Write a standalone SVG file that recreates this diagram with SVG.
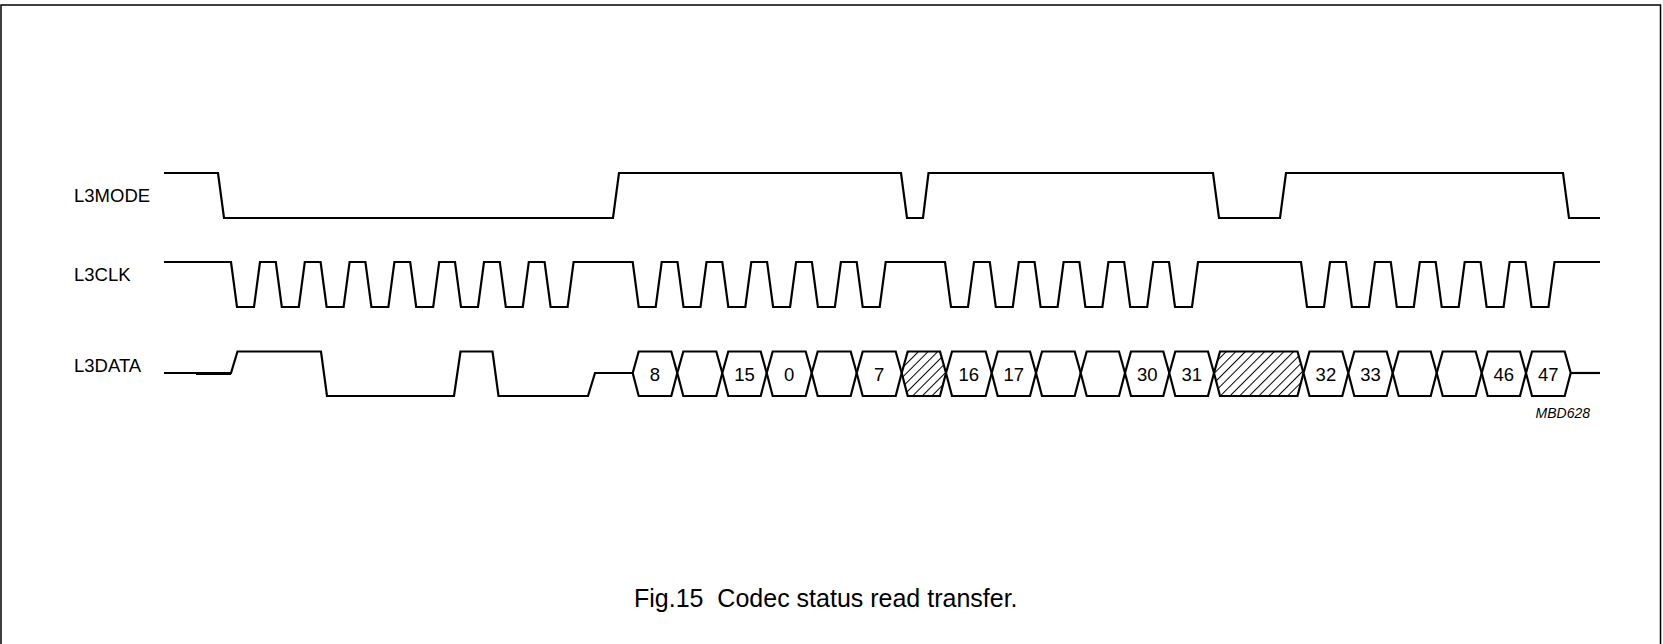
<svg xmlns="http://www.w3.org/2000/svg" width="1663" height="644" viewBox="0 0 1663 644">
<style>
.sig{fill:none;stroke:#000;stroke-width:2.2;stroke-linejoin:miter}
.hex{fill:#fff;stroke:#000;stroke-width:2.2}
.hatch{fill:url(#hatch);stroke:#000;stroke-width:2.2}
.lbl{font-family:"Liberation Sans",Arial,sans-serif;font-size:18.5px;fill:#000}
.num{font-family:"Liberation Sans",Arial,sans-serif;font-size:18.5px;fill:#000;text-anchor:middle}
</style>
<defs>
<pattern id="hatch" patternUnits="userSpaceOnUse" width="6.8" height="6.8" patternTransform="rotate(45)">
<rect width="6.8" height="6.8" fill="#fff"/>
<line x1="0.5" y1="0" x2="0.5" y2="6.8" stroke="#000" stroke-width="1"/>
</pattern>
</defs>
<rect x="1" y="5" width="1659.5" height="660" fill="none" stroke="#000" stroke-width="1.5"/>
<g id="labels">
<text class="lbl" x="74" y="201.5">L3MODE</text>
<text class="lbl" x="74" y="280.5">L3CLK</text>
<text class="lbl" x="74" y="372">L3DATA</text>
</g>
<g id="connectors">
<g id="l3mode">
<path class="sig" d="M164,173 H218 L224,218 H613 L619,173 H901 L907,218 H923 L928.5,173 H1213 L1219,218 H1280 L1286,173 H1563 L1569,218 H1600"/>
</g>
<g id="l3clk">
<path class="sig" d="M164,262 H231 l6,45 h17 l6,-45 h15.8 l6,45 h17 l6,-45 h15.8 l6,45 h17 l6,-45 h15.8 l6,45 h17 l6,-45 h15.8 l6,45 h17 l6,-45 h15.8 l6,45 h17 l6,-45 h15.8 l6,45 h17 l6,-45 h15.8 l6,45 h17 l6,-45 H632.7 l6,45 h17 l6,-45 h15.8 l6,45 h17 l6,-45 h15.8 l6,45 h17 l6,-45 h15.8 l6,45 h17 l6,-45 h15.8 l6,45 h17 l6,-45 h15.8 l6,45 h17 l6,-45 H945 l6,45 h17 l6,-45 h15.8 l6,45 h17 l6,-45 h15.8 l6,45 h17 l6,-45 h15.8 l6,45 h17 l6,-45 h15.8 l6,45 h17 l6,-45 h15.8 l6,45 h17 l6,-45 H1301 l6,45 h17 l6,-45 h15.9 l6,45 h17 l6,-45 h15.9 l6,45 h17 l6,-45 h15.9 l6,45 h17 l6,-45 h15.9 l6,45 h17 l6,-45 h15.9 l6,45 h17 l6,-45 H1600"/>
</g>
<g id="l3data">
<path class="sig" d="M164,373 H231 L237.5,351.5 H321 L327,396 H454 L460.5,351.5 H492.5 L498.5,396 H588 L595,373 H632.7"/>
<path class="sig" d="M196,373.8 H231"/>
<path class="sig" d="M1570.7,373 H1600"/>
<polygon class="hex" points="632.7,373 638.7,351.5 671.3,351.5 677.3,373 671.3,396 638.7,396"/>
<polygon class="hex" points="677.3,373 683.3,351.5 716.3,351.5 722.3,373 716.3,396 683.3,396"/>
<polygon class="hex" points="722.3,373 728.3,351.5 760.7,351.5 766.7,373 760.7,396 728.3,396"/>
<polygon class="hex" points="766.7,373 772.7,351.5 805.7,351.5 811.7,373 805.7,396 772.7,396"/>
<polygon class="hex" points="811.7,373 817.7,351.5 850.7,351.5 856.7,373 850.7,396 817.7,396"/>
<polygon class="hex" points="856.7,373 862.7,351.5 895.7,351.5 901.7,373 895.7,396 862.7,396"/>
<polygon class="hatch" points="901.7,373 907.7,351.5 940,351.5 946,373 940,396 907.7,396"/>
<polygon class="hex" points="946,373 952,351.5 985.7,351.5 991.7,373 985.7,396 952,396"/>
<polygon class="hex" points="991.7,373 997.7,351.5 1030,351.5 1036,373 1030,396 997.7,396"/>
<polygon class="hex" points="1036,373 1042,351.5 1074.7,351.5 1080.7,373 1074.7,396 1042,396"/>
<polygon class="hex" points="1080.7,373 1086.7,351.5 1119,351.5 1125,373 1119,396 1086.7,396"/>
<polygon class="hex" points="1125,373 1131,351.5 1163.3,351.5 1169.3,373 1163.3,396 1131,396"/>
<polygon class="hex" points="1169.3,373 1175.3,351.5 1208,351.5 1214,373 1208,396 1175.3,396"/>
<polygon class="hatch" points="1214,373 1220,351.5 1297.5,351.5 1303.5,373 1297.5,396 1220,396"/>
<polygon class="hex" points="1303.5,373 1309.5,351.5 1342.3,351.5 1348.3,373 1342.3,396 1309.5,396"/>
<polygon class="hex" points="1348.3,373 1354.3,351.5 1386.7,351.5 1392.7,373 1386.7,396 1354.3,396"/>
<polygon class="hex" points="1392.7,373 1398.7,351.5 1430.7,351.5 1436.7,373 1430.7,396 1398.7,396"/>
<polygon class="hex" points="1436.7,373 1442.7,351.5 1475.7,351.5 1481.7,373 1475.7,396 1442.7,396"/>
<polygon class="hex" points="1481.7,373 1487.7,351.5 1520,351.5 1526,373 1520,396 1487.7,396"/>
<polygon class="hex" points="1526,373 1532,351.5 1564.7,351.5 1570.7,373 1564.7,396 1532,396"/>
</g>
</g>
<g id="values">
<text class="num" x="655" y="380.5">8</text>
<text class="num" x="744.5" y="380.5">15</text>
<text class="num" x="789.2" y="380.5">0</text>
<text class="num" x="879.2" y="380.5">7</text>
<text class="num" x="968.8" y="380.5">16</text>
<text class="num" x="1013.8" y="380.5">17</text>
<text class="num" x="1147.2" y="380.5">30</text>
<text class="num" x="1191.7" y="380.5">31</text>
<text class="num" x="1325.9" y="380.5">32</text>
<text class="num" x="1370.5" y="380.5">33</text>
<text class="num" x="1503.8" y="380.5">46</text>
<text class="num" x="1548.3" y="380.5">47</text>
</g>
<text id="code" x="1590" y="418" font-family="'Liberation Sans',Arial,sans-serif" font-size="14" font-style="italic" text-anchor="end">MBD628</text>
<text id="caption" x="634" y="607" font-family="'Liberation Sans',Arial,sans-serif" font-size="25" xml:space="preserve">Fig.15  Codec status read transfer.</text>
</svg>
